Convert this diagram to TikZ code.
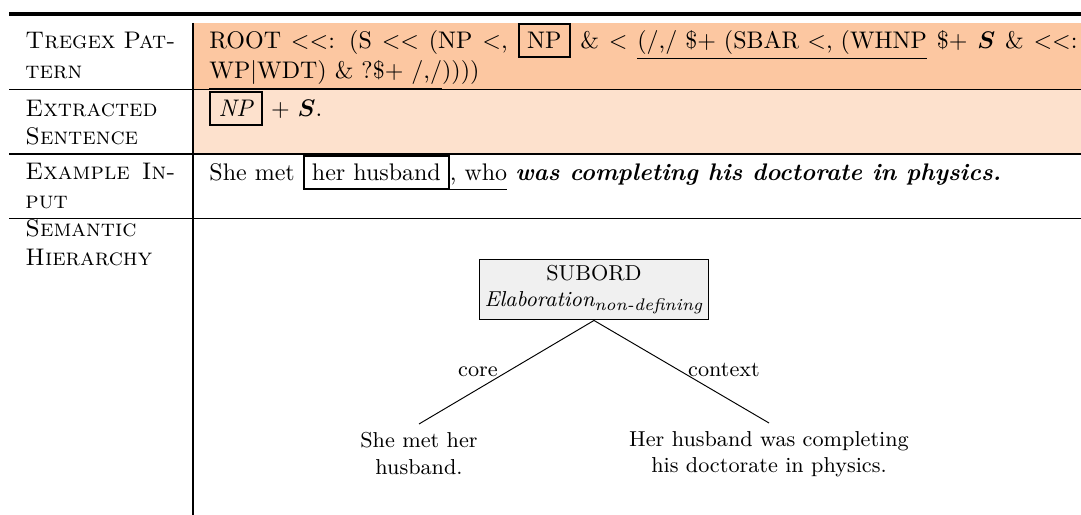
\documentclass[tikz,border=0pt]{standalone}
\usepackage{amsmath,bm}
\definecolor{rowA}{RGB}{252,199,161}
\definecolor{rowB}{RGB}{253,225,205}
\definecolor{boxgray}{RGB}{240,240,240}
\setlength{\fboxrule}{0.8pt}
\begin{document}
\begin{tikzpicture}[x=0.41667pt,y=-0.41667pt,
  lbl/.style={anchor=base west,inner sep=0pt},
  txt/.style={anchor=base west,inner sep=0pt},
  ruletop/.style={line width=1.6pt},
  rulemid/.style={line width=0.8pt},
  rulethin/.style={line width=0.5pt},
  treebox/.style={draw,fill=boxgray,align=center,font=\small,minimum width=91.2pt,minimum height=25.4pt,inner sep=2pt},
  leaf/.style={align=center,anchor=north,font=\small},
  edgelbl/.style={anchor=base,inner sep=0pt,font=\small},
  branch/.style={line width=0.4pt}]
\useasboundingbox (0,0) rectangle (1081,515);
% fills
\fill[rowA] (193,23) rectangle (1081,89.5);
\fill[rowB] (193,89.5) rectangle (1081,154);
% rules
\draw[ruletop] (9,14) -- (1081,14);
\draw[rulethin] (9,89.5) -- (1081,89.5);
\draw[rulemid] (9,154) -- (1081,154);
\draw[rulemid] (9,218.5) -- (1081,218.5);
\draw[line width=0.6pt] (193,23) -- (193,515);
% left labels
\node[lbl] (l1a) at (25,49) {\hbox to 62.5pt{\textsc{Tregex}\hfill\textsc{Pat-}}};
\node[lbl] (l1b) at (25,79) {\textsc{tern}};
\node[lbl] (l2a) at (25,117) {\textsc{Extracted}};
\node[lbl] (l2b) at (25,145) {\textsc{Sentence}};
\node[lbl] (l3a) at (25,180) {\hbox to 62.5pt{\textsc{Example}\hfill\textsc{In-}}};
\node[lbl] (l3b) at (25,209) {\textsc{put}};
\node[lbl] (l4a) at (25,237) {\textsc{Semantic}};
\node[lbl] (l4b) at (25,266) {\textsc{Hierarchy}};
% row 1
\node[txt] (p1) at (209,49) {\hbox to 361.7pt{ROOT $<<$: (S $<<$ (NP $<$, \fbox{NP} \& $<$ \underline{(/,/ \$+ (SBAR $<$, (WHNP} \$+ $\bm{S}$ \& $<<$:}};
\node[txt] (p2) at (209,79) {\underline{WP$|$WDT) \& ?\$+ /,/}))))};
% row 2
\node[txt] (ex) at (209,117) {\fbox{\textit{NP}} $+$ $\bm{S}$.};
% row 3
\node[txt] (inp) at (209,181) {She met \fbox{her husband}\underline{, who} \textbf{\textit{was completing his doctorate in physics.}}};
% row 4 tree
\node[treebox] (root) at (594,289.5) {SUBORD\\$\textit{Elaboration}_{\text{\fontsize{7}{8}\selectfont\itshape non-defining}}$};
\node[leaf] (left) at (419,424) {She met her\\husband.};
\node[leaf] (right) at (769,423) {Her husband was completing\\his doctorate in physics.};
\draw[branch] (root.south) -- (left.north);
\draw[branch] (root.south) -- (right.north);
\node[edgelbl] (core) at (478,377) {core};
\node[edgelbl] (ctx) at (724,377) {context};
\end{tikzpicture}
\end{document}
